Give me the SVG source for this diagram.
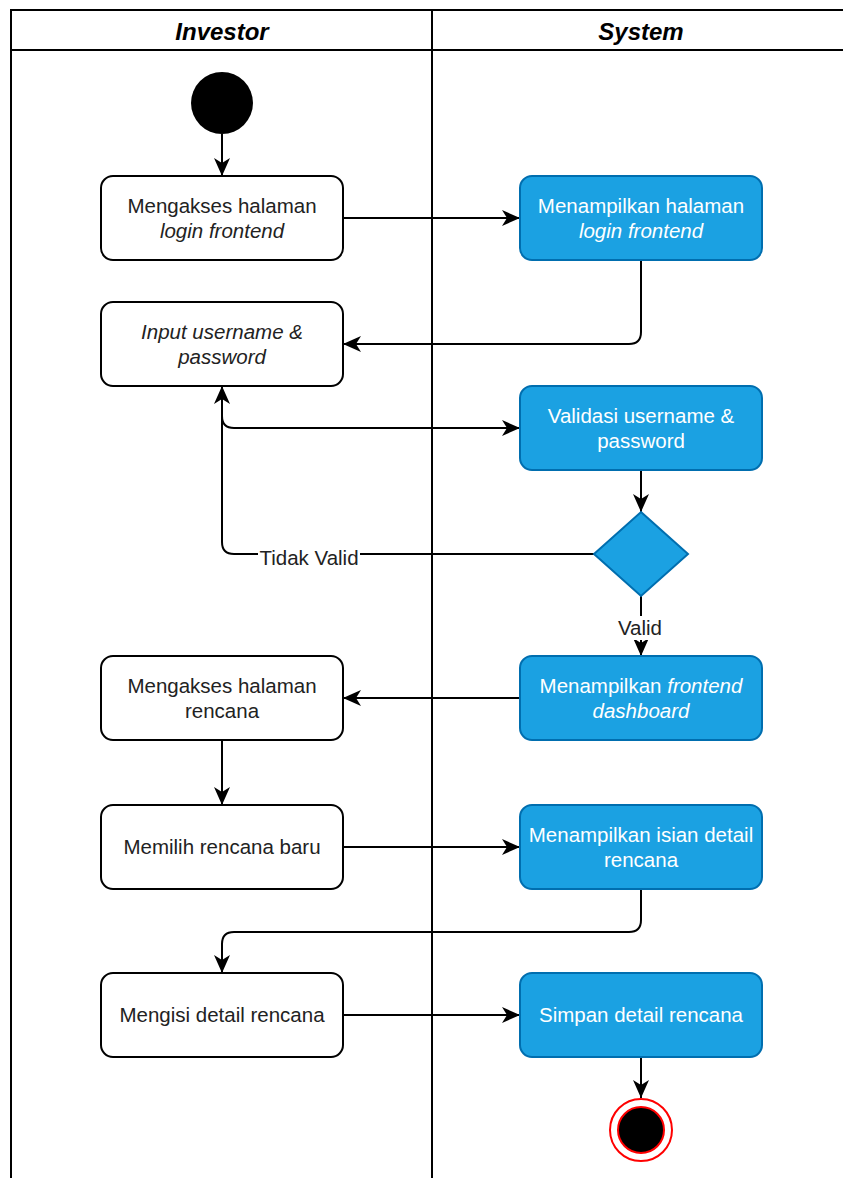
<svg xmlns="http://www.w3.org/2000/svg" width="843" height="1178" viewBox="0 0 843 1178">
<style>
.lane{fill:none;stroke:#000;stroke-width:2}
.hdr{font-family:"Liberation Sans",Arial,sans-serif;font-size:24px;font-weight:bold;font-style:italic;fill:#000;text-anchor:middle}
.w{fill:#fff;stroke:#000;stroke-width:2}
.b{fill:#1ba1e2;stroke:#006eaf;stroke-width:2}
.t{font-family:"Liberation Sans",Arial,sans-serif;font-size:20.5px;text-anchor:middle}
.tw{fill:#222}
.tb{fill:#fff}
.i{font-style:italic}
.e{fill:none;stroke:#000;stroke-width:2}
.lbl{font-family:"Liberation Sans",Arial,sans-serif;font-size:20.5px;fill:#222;text-anchor:middle}
</style>
<defs>
<marker id="arr" markerUnits="userSpaceOnUse" markerWidth="20" markerHeight="16" refX="18" refY="8" orient="auto" viewBox="0 0 20 16">
<path d="M0,0 L18,8 L0,16 L5,8 z" fill="#000"/>
</marker>
</defs>
<rect width="843" height="1178" fill="#fff"/>
<g id="swimlane">
<path class="lane" d="M11,1178 V10 H845 M11,50 H845 M432,10 V1178"/>
<text class="hdr" x="222" y="40">Investor</text>
<text class="hdr" x="641" y="40">System</text>
</g>
<g id="connectors">
<path class="e" d="M222,134 V176" marker-end="url(#arr)"/>
<path class="e" d="M343,218 H520" marker-end="url(#arr)"/>
<path class="e" d="M641,260 V332 Q641,344 629,344 H343" marker-end="url(#arr)"/>
<path class="e" d="M222,386 V416 Q222,428 234,428 H520" marker-end="url(#arr)"/>
<path class="e" d="M594,554 H234 Q222,554 222,542 V386" marker-end="url(#arr)"/>
<path class="e" d="M641,470 V512" marker-end="url(#arr)"/>
<path class="e" d="M641,596 V656" marker-end="url(#arr)"/>
<path class="e" d="M520,698 H343" marker-end="url(#arr)"/>
<path class="e" d="M222,740 V805" marker-end="url(#arr)"/>
<path class="e" d="M343,847 H520" marker-end="url(#arr)"/>
<path class="e" d="M641,889 V920 Q641,932 629,932 H234 Q222,932 222,944 V973" marker-end="url(#arr)"/>
<path class="e" d="M343,1015 H520" marker-end="url(#arr)"/>
<path class="e" d="M641,1057 V1098" marker-end="url(#arr)"/>
<rect x="258" y="544" width="102" height="26" fill="#fff"/>
<text class="lbl" x="309" y="565">Tidak Valid</text>
<rect x="615" y="616" width="52" height="24" fill="#fff"/>
<text class="lbl" x="640" y="635">Valid</text>
</g>
<g id="start"><circle cx="222" cy="103" r="31" fill="#000"/></g>
<g id="n1"><rect class="w" x="101" y="176" width="242" height="84" rx="12"/>
<text class="t tw" x="222" y="213">Mengakses halaman</text><text class="t tw i" x="222" y="238">login frontend</text></g>
<g id="n2"><rect class="b" x="520" y="176" width="242" height="84" rx="12"/>
<text class="t tb" x="641" y="213">Menampilkan halaman</text><text class="t tb i" x="641" y="238">login frontend</text></g>
<g id="n3"><rect class="w" x="101" y="302" width="242" height="84" rx="12"/>
<text class="t tw i" x="222" y="339">Input username &amp;</text><text class="t tw i" x="222" y="364">password</text></g>
<g id="n4"><rect class="b" x="520" y="386" width="242" height="84" rx="12"/>
<text class="t tb" x="641" y="423">Validasi username &amp;</text><text class="t tb" x="641" y="448">password</text></g>
<g id="decision"><path class="b" d="M641,512 L688,554 L641,596 L594,554 Z"/></g>
<g id="n5"><rect class="b" x="520" y="656" width="242" height="84" rx="12"/>
<text class="t tb" x="641" y="693">Menampilkan <tspan class="i">frontend</tspan></text><text class="t tb i" x="641" y="718">dashboard</text></g>
<g id="n6"><rect class="w" x="101" y="656" width="242" height="84" rx="12"/>
<text class="t tw" x="222" y="693">Mengakses halaman</text><text class="t tw" x="222" y="718">rencana</text></g>
<g id="n7"><rect class="w" x="101" y="805" width="242" height="84" rx="12"/>
<text class="t tw" x="222" y="854">Memilih rencana baru</text></g>
<g id="n8"><rect class="b" x="520" y="805" width="242" height="84" rx="12"/>
<text class="t tb" x="641" y="842">Menampilkan isian detail</text><text class="t tb" x="641" y="867">rencana</text></g>
<g id="n9"><rect class="w" x="101" y="973" width="242" height="84" rx="12"/>
<text class="t tw" x="222" y="1022">Mengisi detail rencana</text></g>
<g id="n10"><rect class="b" x="520" y="973" width="242" height="84" rx="12"/>
<text class="t tb" x="641" y="1022">Simpan detail rencana</text></g>
<g id="end"><circle cx="641" cy="1130" r="31" fill="#fff" stroke="#f00" stroke-width="2"/>
<circle cx="641" cy="1130" r="23" fill="#000" stroke="#f00" stroke-width="2"/></g>
</svg>
